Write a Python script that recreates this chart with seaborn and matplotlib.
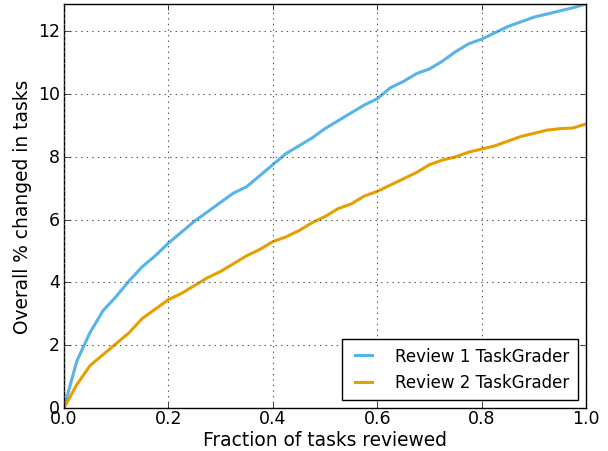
import pandas as pd
import numpy as np
import matplotlib
matplotlib.use('Agg')
import matplotlib.pyplot as plt
import seaborn as sns

# fraction of tasks reviewed (steps of 0.025)
fraction = [i / 40 for i in range(41)]

# overall % changed
review1 = [0.0, 1.5, 2.4, 3.1, 3.55, 4.05, 4.5, 4.85, 5.25, 5.6,
           5.95, 6.25, 6.55, 6.85, 7.05, 7.4, 7.75, 8.1, 8.35, 8.6,
           8.9, 9.15, 9.4, 9.65, 9.85, 10.2, 10.4, 10.65, 10.8, 11.05,
           11.35, 11.6, 11.75, 11.95, 12.15, 12.3, 12.45, 12.55, 12.65, 12.75,
           12.87]
review2 = [0.0, 0.75, 1.35, 1.7, 2.05, 2.4, 2.85, 3.15, 3.45, 3.65,
           3.9, 4.15, 4.35, 4.6, 4.85, 5.05, 5.3, 5.45, 5.65, 5.9,
           6.1, 6.35, 6.5, 6.75, 6.9, 7.1, 7.3, 7.5, 7.75, 7.9,
           8.0, 8.15, 8.25, 8.35, 8.5, 8.65, 8.75, 8.85, 8.9, 8.92,
           9.05]
labels = ['Review 1 TaskGrader', 'Review 2 TaskGrader']
colors = ['#56B4E9', '#E69F00']

df = pd.concat([
    pd.DataFrame({'fraction': fraction, 'pct': review1, 'series': labels[0]}),
    pd.DataFrame({'fraction': fraction, 'pct': review2, 'series': labels[1]}),
])

# old matplotlib look
plt.style.use('classic')
plt.rcParams['figure.facecolor'] = 'white'
plt.rcParams['font.family'] = ['DejaVu Sans']

fig = plt.figure(figsize=(6.08, 4.52), dpi=100)
ax = fig.add_axes([0.105, 0.095, 0.859, 0.894])

sns.lineplot(data=df, x='fraction', y='pct', hue='series',
             palette=colors, linewidth=2.2, ax=ax)

ax.set_xlim(0, 1)
ax.set_ylim(0, 12.87)
ax.set_xticks([0.0, 0.2, 0.4, 0.6, 0.8, 1.0])
ax.set_yticks([0, 2, 4, 6, 8, 10, 12])
ax.tick_params(axis='both', labelsize=12.5)
ax.tick_params(axis='x', pad=1)
ax.tick_params(axis='y', pad=3)
ax.grid(True, linestyle=':', color='#555555', linewidth=0.8)
ax.set_xlabel('Fraction of tasks reviewed', fontsize=13.4, labelpad=2)
ax.set_ylabel('Overall % changed in tasks', fontsize=13.4, labelpad=4)

leg = ax.legend(loc='lower right', fontsize=12, handlelength=1.6,
                handletextpad=1.1, borderpad=0.5, borderaxespad=0.5)
leg.get_frame().set_edgecolor('black')

plt.savefig('out.png', dpi=100)
